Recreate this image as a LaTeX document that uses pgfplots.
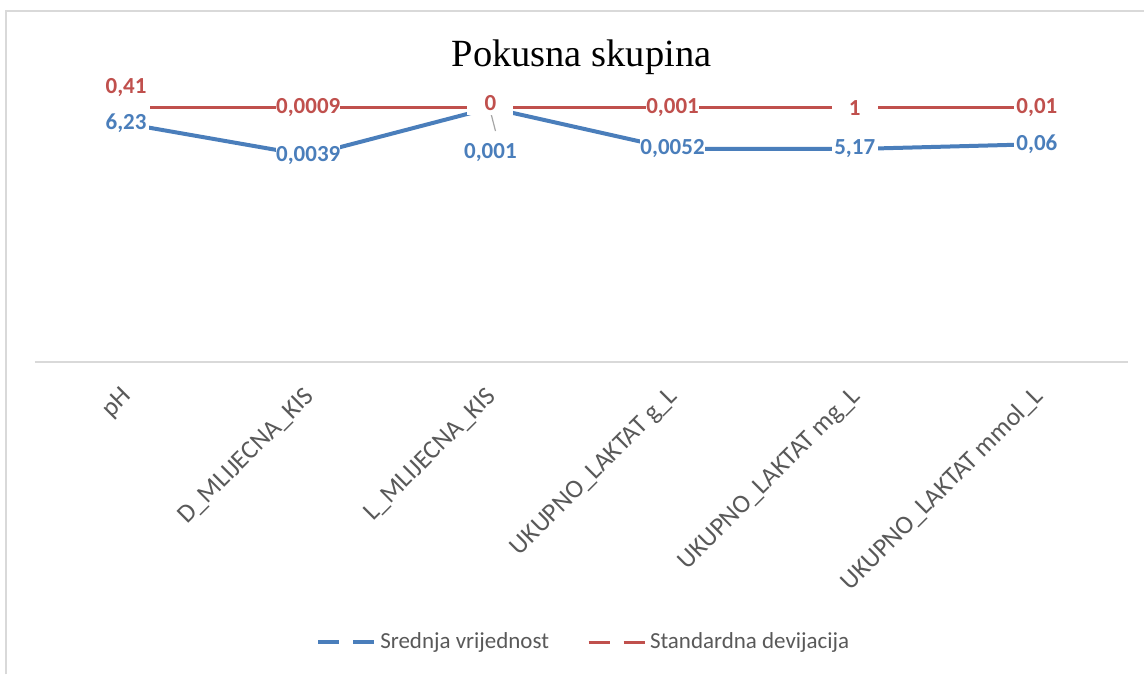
\documentclass[border=0pt]{standalone}
\usepackage{fontspec}
\setmainfont{Carlito}
\newfontfamily\titlefont{Liberation Serif}
\usepackage{pgfplots}
\pgfplotsset{compat=1.18}
\usepackage{pgfplotstable}
\definecolor{cblue}{HTML}{4A7EBB}
\definecolor{cred}{HTML}{C0504D}
\definecolor{ctext}{HTML}{595959}
\definecolor{cgrid}{HTML}{D9D9D9}

% 100% stacked line chart: y = cumulative share, lab = value shown
\pgfplotstableread{
x y lab dy
0 0.938 6,23 0
1 0.8125 0,0039 0
2 1.000 0,001 -22.5
3 0.839 0,0052 0
4 0.838 5,17 0
5 0.857 0,06 0
}\srednja
\pgfplotstableread{
x y lab dy
0 1 0,41 10
1 1 0,0009 0
2 1 0 2.5
3 1 0,001 0
4 1 1 0
5 1 0,01 0
}\devijacija

\begin{document}
\begin{tikzpicture}
\fill[white] (0,0) rectangle (572.5pt,337.5pt);
\draw[cgrid, line width=1pt] (3pt,0pt) -- (3pt,332pt) -- (572.5pt,332pt);
\node[font=\titlefont\fontsize{19.25}{22}\selectfont, anchor=base] at (291pt,304pt) {Pokusna skupina};
\begin{axis}[
  at={(17.5pt,156.5pt)}, anchor=south west,
  scale only axis, width=547pt, height=127pt,
  xmin=-0.5, xmax=5.5, ymin=0, ymax=1,
  axis x line*=bottom, axis y line=none,
  x axis line style={cgrid, line width=1pt, -},
  xtick={0,1,2,3,4,5}, major tick length=0pt, ytick=\empty,
  xticklabels={pH, D\_MLIJECNA\_KIS, L\_MLIJECNA\_KIS, UKUPNO\_LAKTAT g\_L, UKUPNO\_LAKTAT mg\_L, UKUPNO\_LAKTAT mmol\_L},
  xticklabel style={font=\fontsize{13}{15}\selectfont, text=ctext, inner sep=0pt, xshift=1pt, yshift=-15.5pt, rotate=45, anchor=east},
  clip=false,
  point meta=explicit symbolic,
  nodes near coords,
  visualization depends on={\thisrow{dy} \as \dy},
  nodes near coords style={anchor=center, yshift=\dy, font=\bfseries\fontsize{11.5}{13}\selectfont, fill=white, inner sep=0pt, minimum width=23pt, minimum height=12pt},
  legend columns=2,
  legend style={at={(0.503,-1.106)}, anchor=center, draw=none, fill=none, font=\fontsize{11.5}{13}\selectfont, text=ctext, /tikz/every even column/.append style={column sep=17pt}},
  legend image code/.code={\draw[#1, shorten <=0pt, dash pattern=on 10.5pt off 7pt] (0pt,0pt) -- (28pt,0pt);},
]
\addplot[cblue, line width=2pt, mark=none, nodes near coords style={text=cblue}] table[x=x, y=y, meta=lab] {\srednja};
\addlegendentry{Srednja vrijednost}
\addplot[cred, line width=1.5pt, mark=none, shorten <=12pt, nodes near coords style={text=cred}] table[x=x, y=y, meta=lab] {\devijacija};
\addlegendentry{Standardna devijacija}
\draw[gray!70, line width=0.6pt] (axis cs:2.001,0.984) -- (axis cs:2.028,0.909);
\end{axis}
\end{tikzpicture}
\end{document}
